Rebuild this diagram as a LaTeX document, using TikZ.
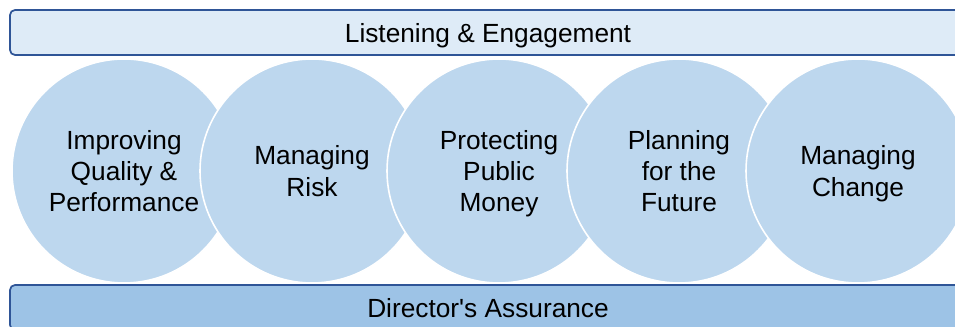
\documentclass[tikz,border=0pt]{standalone}
\usepackage{fontspec}
\setmainfont{Liberation Sans}
\usetikzlibrary{positioning}

\definecolor{barline}{RGB}{47,85,151}
\definecolor{barlight}{RGB}{222,235,247}
\definecolor{bardark}{RGB}{157,195,230}
\definecolor{ringfill}{RGB}{189,215,238}

\begin{document}
\begin{tikzpicture}[x=0.75pt,y=-0.75pt,
		txt/.style={font=\fontsize{19.7}{23.3}\selectfont,align=center,text depth=0pt},
		ring/.style={circle,txt,fill=ringfill,draw=white,line width=1.2pt,inner sep=0pt,minimum size=168pt},
		bar/.style={rectangle,txt,rounded corners=3.75pt,draw=barline,line width=1.3pt,minimum width=717pt,minimum height=33.75pt,inner sep=0pt}]
		\useasboundingbox (0,0) rectangle (955,327);
		\clip (0,0) rectangle (955,327);
		
		% the five circles, each one lying over the one before
		\node[ring] (quality) at (124,171) {Improving\\Quality \&\\Performance};
		\node[ring] (risk) at (312,171) {Managing\\Risk};
		\node[ring] (money) at (499,171) {Protecting\\Public\\Money};
		\node[ring] (future) at (679,171) {Planning\\for the\\Future};
		\node[ring] (change) at (858,171) {Managing\\Change};
		
		% top and bottom bands
		\node[bar,fill=barlight] (listen) at (488,32.5) {Listening \& Engagement};
		\node[bar,fill=bardark] (assure) at (488,307.5) {Director\textquotesingle s Assurance};
	\end{tikzpicture}
\end{document}
